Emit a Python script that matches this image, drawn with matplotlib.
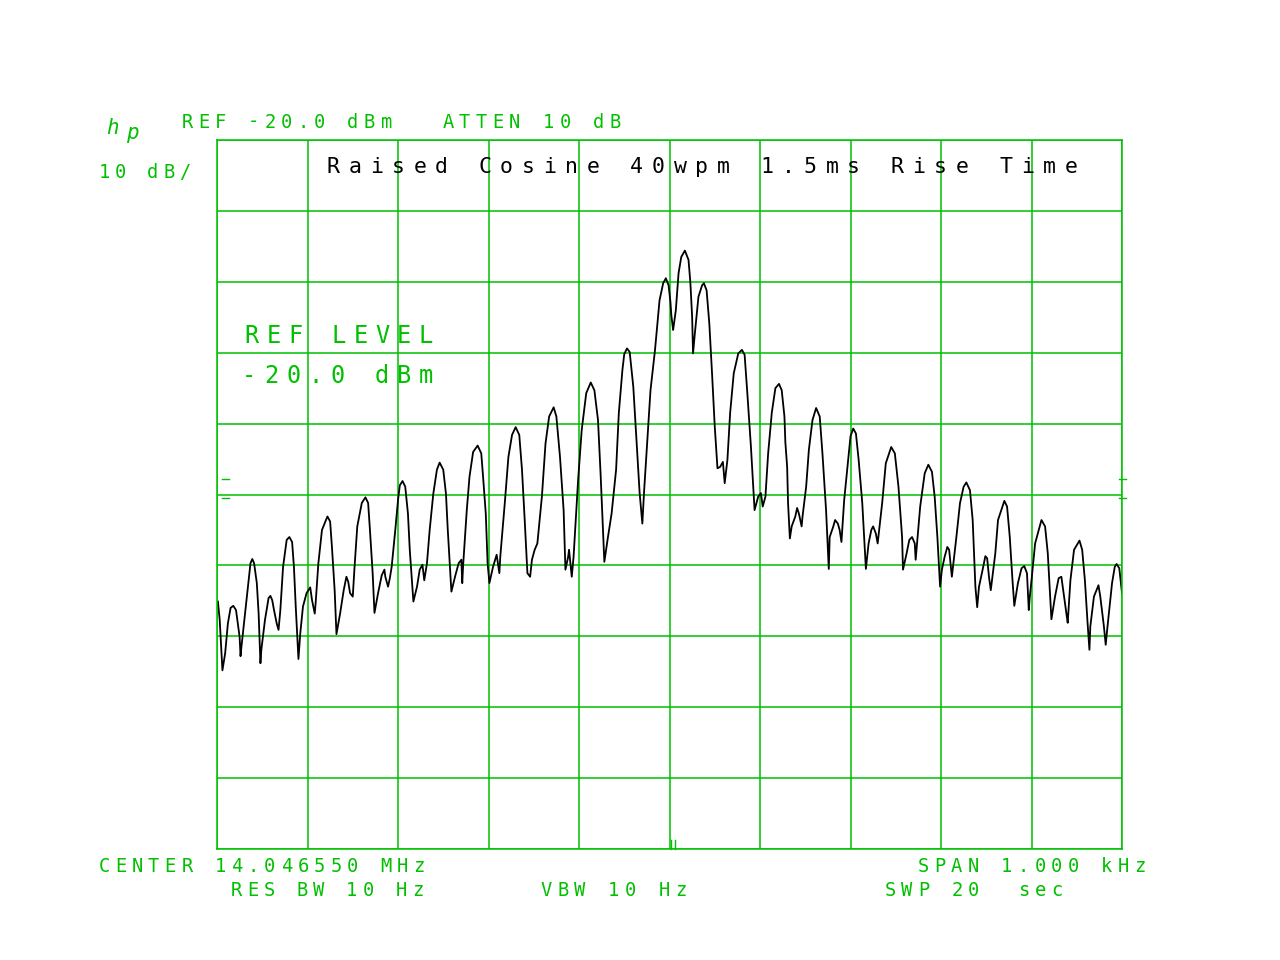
import matplotlib
matplotlib.use('Agg')
import matplotlib.pyplot as plt

GREEN = '#00c000'
W, H = 1280, 960

# trace: offset from centre (Hz) and level (dBm)
freq_hz = [-499, -497, -494, -493, -491, -488, -485, -482, -479, -477,
           -475, -474, -473, -469, -465, -463, -461, -459, -456, -454,
           -452, -451, -447, -443, -441, -439, -437, -434, -432, -430,
           -427, -423, -420, -417, -415, -413, -410, -408, -405, -401,
           -397, -395, -392, -391, -388, -384, -378, -375, -373, -370,
           -368, -364, -360, -357, -355, -353, -350, -348, -345, -340,
           -336, -333, -331, -328, -326, -322, -318, -315, -314, -311,
           -309, -307, -303, -300, -298, -295, -292, -289, -287, -283,
           -279, -276, -273, -271,
           -268, -265, -261, -257, -254, -250, -247, -245, -241, -237,
           -233, -230, -229, -228, -224, -221, -217, -212, -208, -206,
           -203, -201, -199, -195, -191, -188, -187, -182, -178, -174,
           -170, -166, -163, -160, -157, -154, -152, -149, -146, -141,
           -137, -133, -128, -125, -121, -117, -115, -112, -111, -108,
           -106, -101, -97, -92, -87, -83, -79, -76, -72, -68,
           -64, -59, -56, -52, -50, -47,
           -44, -40, -36, -33, -30, -28, -25, -21, -16, -11,
           -7, -4, -1, 1, 2, 4, 7, 10, 13, 17,
           21, 23, 25, 26, 28, 32, 36, 38, 41, 44,
           47, 50, 53, 56, 59, 61, 64, 67, 71, 76,
           80, 83, 86, 90, 94, 98, 101, 103, 106, 109,
           113, 117, 121, 124, 127, 128, 130,
           131, 133, 135, 139, 141, 143, 146, 147, 151, 154,
           158, 162, 166, 169, 173, 176, 177, 181, 183, 186,
           188, 190, 193, 197, 200, 203, 206, 209, 213, 217,
           220, 223, 225, 228, 230, 235, 239, 245, 249, 253,
           257, 258, 262, 265, 268, 271, 272, 277, 282, 286,
           290, 293, 296, 299, 301, 304, 307, 309, 312,
           317, 321, 325, 328, 332, 335, 338, 340, 342, 346,
           349, 351, 353, 355, 360, 363, 370, 373, 376, 379,
           381, 385, 389, 392, 395, 397, 398, 400, 404, 411,
           415, 418, 421, 422, 426, 430, 433, 435, 439, 440,
           443, 447, 453, 456, 459, 462, 464, 465, 469, 474,
           476, 480, 482, 484, 489, 492, 494, 497, 500]
level_dbm = [-85.1, -87.7, -94.8, -94.0, -92.4, -88.2, -86.0, -85.7, -86.3, -88.2,
             -90.1, -92.8, -91.5, -86.8, -82.1, -79.7, -79.1, -79.7, -82.5, -86.8,
             -93.8, -91.9, -87.7, -84.6, -84.3, -84.9, -86.3, -88.2, -89.1, -86.3,
             -80.2, -76.4, -76.0, -76.7, -80.2, -85.8, -93.2, -89.6, -85.8, -83.9,
             -83.1, -84.9, -86.8, -85.3, -79.7, -75.0, -73.1, -73.8, -77.4, -83.5,
             -89.7, -86.8, -83.5, -81.6, -82.3, -83.9, -84.4, -80.2, -74.5, -71.2,
             -70.4, -71.2, -75.0, -81.1, -86.7, -83.9, -81.4, -80.6, -81.6, -83.0,
             -81.8, -80.2, -75.0, -70.8, -68.7, -68.1, -68.9, -72.7, -77.8, -85.1,
             -83.0, -80.6, -79.9, -82.1,
             -79.7, -75.0, -69.9, -66.5, -65.5, -66.5, -69.9, -75.0, -83.7, -81.6,
             -79.7, -79.2, -82.5, -79.9, -72.2, -67.5, -64.0, -63.1, -64.2, -67.5,
             -72.7, -79.7, -82.5, -80.2, -78.5, -81.1, -78.8, -71.2, -64.7, -61.6,
             -60.5, -61.6, -66.5, -73.6, -81.1, -81.6, -79.2, -77.8, -76.9, -70.3,
             -62.8, -59.0, -57.7, -59.0, -64.7, -72.2, -80.6, -78.8, -77.8, -81.6,
             -78.8, -68.0, -60.9, -55.7, -54.2, -55.3, -59.5, -67.5, -79.5, -76.0,
             -72.7, -66.5, -58.5, -52.4, -50.2, -49.4,
             -49.9, -54.8, -63.3, -69.8, -74.1, -69.4, -63.3, -55.3, -49.6, -42.6,
             -40.2, -39.5, -40.5, -42.8, -44.7, -46.8, -44.0, -38.8, -36.5, -35.6,
             -36.9, -40.0, -44.9, -50.1, -47.3, -42.1, -40.5, -40.2, -41.2, -45.9,
             -52.9, -60.4, -66.3, -66.1, -65.4, -68.4, -65.1, -58.5, -52.9, -50.1,
             -49.6, -50.3, -55.7, -63.3, -72.2, -70.3, -69.8, -71.7, -70.3, -64.2,
             -58.5, -55.0, -54.4, -55.3, -59.0, -62.6, -66.1,
             -71.2, -76.2, -74.5, -73.1, -71.9, -72.7, -74.5, -73.1, -68.9, -63.7,
             -59.5, -57.8, -59.0, -64.2, -72.2, -80.5, -76.0, -74.5, -73.6, -74.1,
             -75.0, -76.7, -70.8, -65.6, -61.8, -60.7, -61.4, -65.1, -71.2, -80.5,
             -76.9, -75.0, -74.5, -75.5, -76.9, -71.2, -65.6, -63.3, -64.2, -68.9,
             -76.0, -80.6, -78.3, -76.4, -76.0, -76.9, -79.2, -71.7, -67.0, -65.8,
             -66.8, -70.3, -76.0, -83.0, -80.6, -78.8, -77.4, -77.8, -81.6,
             -76.0, -71.2, -68.9, -68.3, -69.4, -73.6, -83.0, -85.9, -83.0, -80.6,
             -78.7, -79.0, -81.6, -83.5, -78.3, -73.6, -70.9, -71.7, -76.0, -82.1,
             -85.7, -82.5, -80.4, -80.1, -81.1, -86.3, -84.6, -82.1, -76.9, -73.6,
             -74.5, -78.3, -85.3, -87.6, -84.4, -81.8, -81.6, -83.5, -87.2, -88.1,
             -82.1, -77.8, -76.5, -77.8, -82.1, -88.2, -91.9, -88.6, -84.4, -82.8,
             -84.4, -88.6, -91.2, -88.6, -82.5, -80.2, -79.8, -80.4, -83.9]

fig = plt.figure(figsize=(12.8, 9.6), dpi=100)
ax = fig.add_axes([217 / W, 111 / H, 905 / W, 709 / H])
ax.set_xlim(-500, 500)
ax.set_ylim(-120, -20)
ax.set_xticks(range(-500, 501, 100))
ax.set_yticks(range(-120, -19, 10))
ax.tick_params(length=0, labelbottom=False, labelleft=False)
ax.grid(True, color=GREEN, linewidth=1.1)
for s in ax.spines.values():
    s.set_color(GREEN)
    s.set_linewidth(1.1)

ax.plot(freq_hz, level_dbm, color='black', linewidth=1.3)

# little marker dashes at the edges and the centre tick
for y in (0.5214, 0.4946):
    ax.plot([0.006, 0.013], [y, y], color=GREEN, lw=1, transform=ax.transAxes, clip_on=False)
    ax.plot([0.997, 1.004], [y, y], color=GREEN, lw=1, transform=ax.transAxes, clip_on=False)
for x in (0.5017, 0.5061):
    ax.plot([x, x], [0, 0.013], color=GREEN, lw=1, transform=ax.transAxes, clip_on=False)


def hp_text(x, y, s, pitch, size, color=GREEN, **kw):
    # plotter style: fixed character pitch
    for i, ch in enumerate(s):
        if ch != ' ':
            fig.text((x + i * pitch) / W, 1 - y / H, ch, ha='center', va='center',
                     fontsize=size, color=color, family='DejaVu Sans Mono', **kw)


small = 13.5
hp_text(112, 128, 'h', 20, 15, style='italic')
hp_text(132, 133, 'p', 20, 15, style='italic')
hp_text(187, 122, 'REF -20.0 dBm', 16.6, small)
hp_text(448, 122, 'ATTEN 10 dB', 16.7, small)
hp_text(104, 173, '10 dB/', 16.2, small)
hp_text(333, 167, 'Raised Cosine 40wpm 1.5ms Rise Time', 21.7, 15.5, color='black')
hp_text(252, 336, 'REF LEVEL', 21.75, 17)
hp_text(249, 376, '-20.0 dBm', 22.1, 17)
hp_text(104, 866, 'CENTER 14.046550 MHz', 16.58, small)
hp_text(923, 866, 'SPAN 1.000 kHz', 16.7, small)
hp_text(236, 891, 'RES BW 10 Hz', 16.5, small)
hp_text(546, 891, 'VBW 10 Hz', 16.9, small)
hp_text(890, 891, 'SWP 20  sec', 16.7, small)

fig.savefig('out.png', dpi=100, facecolor='white')
